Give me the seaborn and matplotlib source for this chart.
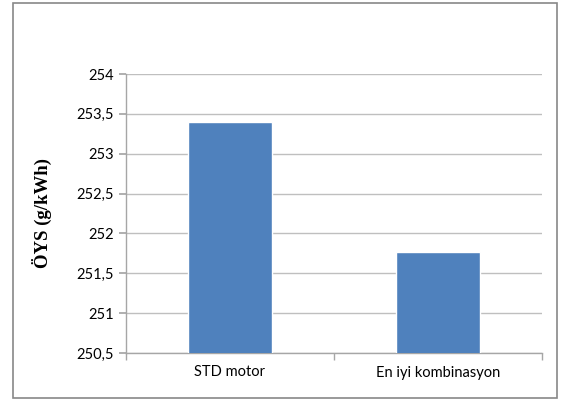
import matplotlib
matplotlib.use("Agg")
import matplotlib.pyplot as plt
import seaborn as sns
import pandas as pd
from matplotlib.patches import Rectangle
from matplotlib.ticker import FuncFormatter, FixedLocator

categories = ["STD motor", "En iyi kombinasyon"]
values = [253.4, 251.77]
y_ticks = [250.5, 251, 251.5, 252, 252.5, 253, 253.5, 254]

sns.set_theme(style="white")
plt.rcParams["font.family"] = ["Lato", "DejaVu Sans"]

df = pd.DataFrame({"cat": categories, "val": values})

fig = plt.figure(figsize=(5.61, 4.05), dpi=100)
ax = fig.add_axes([126/561, 1-353/405, (542-126)/561, (353-74)/405])

sns.barplot(data=df, x="cat", y="val", color="#4F81BD", saturation=1,
            width=0.4, ax=ax, zorder=3)

ax.set_ylim(250.5, 254)
ax.set_yticks(y_ticks)
ax.yaxis.set_major_formatter(FuncFormatter(lambda v, p: f"{v:g}".replace(".", ",")))
ax.grid(axis="y", color="#BFBFBF", linewidth=1, zorder=0)
ax.set_axisbelow(True)

for s in ["top", "right"]:
    ax.spines[s].set_visible(False)
for s in ["left", "bottom"]:
    ax.spines[s].set_color("#A6A6A6")
    ax.spines[s].set_linewidth(1)

ax.set_xlim(-0.5, 1.5)
ax.xaxis.set_minor_locator(FixedLocator([-0.5, 0.5, 1.5]))
ax.tick_params(axis="x", which="major", length=0, labelsize=10.5, pad=9, colors="#000000")
ax.tick_params(axis="x", which="minor", length=5, color="#A6A6A6", direction="out", bottom=True)
ax.tick_params(axis="y", which="major", length=5, color="#A6A6A6", direction="out", left=True,
               labelsize=10.5, pad=4, labelcolor="#000000")

ax.set_xlabel("")
ax.set_ylabel("ÖYS (g/kWh)", family=["Liberation Serif"], fontweight="bold", fontsize=13.5,
              labelpad=17, color="#000000")

fig.patches.append(Rectangle((13/561, 1-398/405), (557-13)/561, (398-3)/405,
                             transform=fig.transFigure, fill=False,
                             edgecolor="#888888", linewidth=1.2))

fig.savefig("out.png", dpi=100, facecolor="white")
